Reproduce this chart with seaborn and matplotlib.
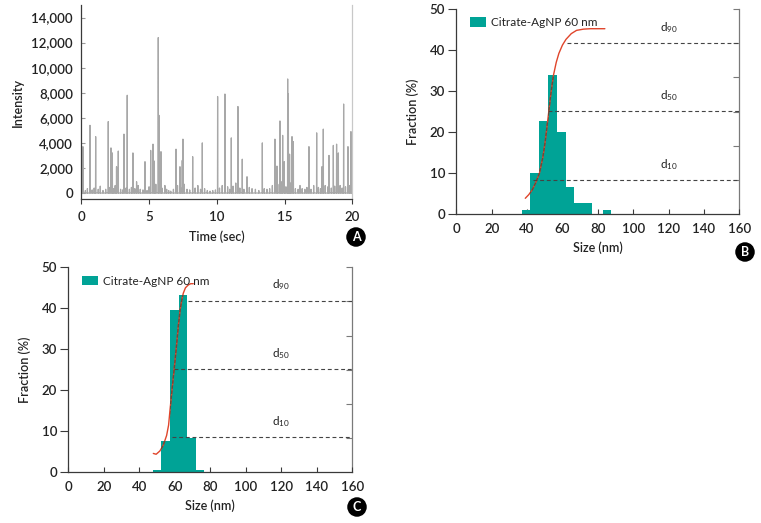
import matplotlib
matplotlib.use("Agg")
import matplotlib.pyplot as plt
from matplotlib.path import Path
import numpy as np
import pandas as pd
import seaborn as sns

# ---------------- Panel A: intensity trace ----------------
spike_time = [0.12, 0.64, 1.06, 1.99, 2.19, 2.29, 2.60, 2.73, 3.15, 3.39, 3.81, 4.08, 4.70,
              5.12, 5.29, 5.39, 5.68, 5.73, 5.88, 6.17, 6.99, 7.28, 7.45, 7.50, 8.22, 8.93,
              10.06, 10.60, 11.07, 11.56, 11.88, 12.23, 13.36, 14.29, 14.44, 14.66, 14.86,
              14.98, 15.23, 15.28, 15.37, 15.55, 15.65, 16.14, 16.80, 17.37, 17.76, 17.86,
              18.28, 18.60, 18.84, 18.97, 19.36, 19.68, 19.90]
spike_int = [3700, 5400, 4500, 5700, 3600, 3200, 2100, 3350, 4700, 7800, 3200, 900, 2500,
             3400, 3900, 2550, 12400, 6200, 3300, 600, 3500, 2100, 2600, 4300, 2900, 4000,
             7700, 7900, 4400, 6900, 2700, 1300, 4000, 4300, 2150, 5750, 4600,
             2500, 9100, 7900, 3100, 4500, 4100, 600, 3700, 4800, 2100, 5100,
             3000, 3800, 3900, 3200, 7100, 3700, 4900]
noise_time = [0.05, 0.30, 0.45, 0.80, 0.95, 1.25, 1.40, 1.60, 1.80, 2.05, 2.40, 2.50, 2.90,
              3.05, 3.30, 3.55, 3.70, 3.95, 4.20, 4.35, 4.55, 4.85, 5.00, 5.50, 5.95, 6.30,
              6.45, 6.60, 6.80, 7.10, 7.35, 7.60, 7.80, 8.00, 8.40, 8.60, 8.80, 9.10, 9.30,
              9.50, 9.70, 9.90, 10.20, 10.40, 10.80, 10.95, 11.20, 11.40, 11.70, 12.00, 12.40,
              12.60, 12.85, 13.10, 13.50, 13.70, 13.90, 14.10, 14.50, 14.75, 15.10, 15.45,
              15.80, 16.00, 16.30, 16.50, 16.65, 16.95, 17.15, 17.50, 17.65, 18.00, 18.20,
              18.45, 18.70, 19.10, 19.25, 19.50, 19.80, 19.95]
noise_int = [300, 200, 350, 250, 400, 300, 550, 200, 300, 450, 350, 600, 300,
             250, 400, 300, 450, 350, 600, 300, 250, 200, 500, 700, 400, 300,
             200, 150, 300, 600, 400, 700, 300, 250, 400, 600, 300, 350, 200,
             150, 200, 250, 400, 600, 500, 300, 550, 800, 400, 300, 450,
             350, 300, 200, 350, 300, 350, 600, 700, 900, 500, 800,
             350, 300, 350, 300, 450, 300, 600, 450, 350, 600, 500,
             400, 550, 600, 400, 500, 600, 400]

# ---------------- Panel B: size distribution ----------------
b_edges = [37.3, 41.8, 47.0, 52.0, 56.8, 61.8, 66.7, 71.6, 76.5, 83.0, 87.3]
b_frac = [1.1, 10.0, 22.7, 34.0, 20.0, 6.7, 2.8, 2.8, 0.0, 1.1]
b_cum_x = [39, 41, 43, 45, 47, 49, 50.5, 52, 53.5, 55, 56.5, 58, 60, 62, 65, 68, 72, 76, 84]
b_cum_y = [3.9, 4.8, 6.0, 7.8, 10.0, 14.0, 18.5, 24.0, 29.5, 34.0, 37.0, 39.2, 41.2, 42.6,
           44.0, 44.8, 45.1, 45.2, 45.2]
b_d_level = [8.4, 25.1, 41.7]
b_d_start = [43.5, 52.0, 62.4]

# ---------------- Panel C: size distribution ----------------
c_edges = [47.5, 52.5, 57.4, 62.2, 67.0, 71.8, 76.5]
c_frac = [0.6, 7.7, 39.6, 43.2, 8.4, 0.5]
c_cum_x = [47.9, 49.5, 51.6, 53.5, 55.4, 56.5, 57.3, 58.3, 59.2, 60.2, 61.1, 62.0, 63.0,
           64.0, 64.8, 66.0, 67.6, 69.0, 70.4]
c_cum_y = [4.6, 4.4, 5.2, 6.6, 9.0, 11.5, 15.2, 19.5, 23.3, 27.5, 31.5, 35.8, 39.6,
           42.2, 43.7, 45.0, 45.7, 46.0, 46.0]
c_d_level = [8.5, 25.1, 41.9]
c_d_start = [58.2, 59.7, 67.6]

d_labels = ["d$_{10}$", "d$_{50}$", "d$_{90}$"]
legend_label = "Citrate-AgNP 60 nm"

# ---------------- style ----------------
sns.set_theme(style="white")
plt.rcParams["font.family"] = ["Lato", "DejaVu Sans"]
plt.rcParams["mathtext.fontset"] = "custom"
plt.rcParams["mathtext.rm"] = "Lato"
plt.rcParams["mathtext.default"] = "regular"

TEAL = "#00A396"
RED = "#E0452B"
DARK = "#3a3a3a"
MID = "#7a7a7a"
TXT = "#222222"
TICK_FS = 9.5
LAB_FS = 9

W, H = 761, 523
fig = plt.figure(figsize=(W / 100, H / 100), dpi=100)


def frac_box(l, r, b, t):
    return [l / W, 1 - b / H, (r - l) / W, (b - t) / H]


axA = fig.add_axes(frac_box(81.3, 352.3, 199.3, 5))
axB = fig.add_axes(frac_box(456.3, 739.3, 214.3, 9))
axC = fig.add_axes(frac_box(68.3, 352.3, 472.3, 267.3))

# ---------- A ----------
events = sorted(list(zip(spike_time, spike_int)) + list(zip(noise_time, noise_int)))
xs, ys = [0.0], [0.0]
for t, h in events:
    xs += [t - 0.01, t, t + 0.01]
    ys += [0, h, 0]
xs.append(20.0)
ys.append(0.0)
dfA = pd.DataFrame({"Time": xs, "Intensity": ys})
sns.lineplot(data=dfA, x="Time", y="Intensity", estimator=None, sort=False,
             color="#a8a8a8", linewidth=0.9, ax=axA)
axA.set_xlim(0, 20)
axA.set_ylim(-500, 15000)
axA.set_xticks([0, 5, 10, 15, 20])
axA.set_yticks(range(0, 14001, 2000))
axA.yaxis.set_major_formatter(matplotlib.ticker.FuncFormatter(lambda v, p: f"{int(v):,}"))
axA.set_xlabel("Time (sec)", fontsize=LAB_FS, color=TXT, fontweight="semibold", labelpad=5)
axA.set_ylabel("Intensity", fontsize=LAB_FS, color=TXT, fontweight="semibold", labelpad=5)
axA.tick_params(axis="x", direction="out", length=3.5, width=0.8, color=DARK, bottom=True,
                labelsize=TICK_FS, labelcolor=TXT, pad=5)
axA.tick_params(axis="y", direction="in", length=3, width=0.8, color="#999999", left=True,
                labelsize=TICK_FS, labelcolor=TXT, pad=6)
axA.spines["top"].set_visible(False)
axA.spines["left"].set_color(DARK)
axA.spines["bottom"].set_color(DARK)
axA.spines["right"].set_color("#c8c8c8")
for s in ["left", "bottom", "right"]:
    axA.spines[s].set_linewidth(0.9)
for lab in axA.get_xticklabels() + axA.get_yticklabels():
    lab.set_fontweight("semibold")


def size_panel(ax, edges, frac, cx, cy, dlev, dstart):
    centers = [(edges[i] + edges[i + 1]) / 2 for i in range(len(frac))]
    sns.histplot(x=centers, weights=frac, bins=edges, stat="count", element="bars",
                 color=TEAL, alpha=1, linewidth=0, label=legend_label, ax=ax)
    sns.lineplot(x=cx, y=cy, color=RED, linewidth=1.0, sort=False, estimator=None, ax=ax)
    # darker dashed look of the curve where it crosses the bars
    verts, codes = [], []
    for p in ax.patches:
        x0, y0 = p.get_x(), p.get_y()
        w, h = p.get_width(), p.get_height()
        if h <= 0:
            continue
        verts += [(x0, y0), (x0 + w, y0), (x0 + w, y0 + h), (x0, y0 + h), (x0, y0)]
        codes += [Path.MOVETO, Path.LINETO, Path.LINETO, Path.LINETO, Path.CLOSEPOLY]
    clip = Path(verts, codes)
    dark_line, = ax.plot(cx, cy, color="#6b4a3a", linewidth=1.0, linestyle=(0, (2.5, 1.2)))
    dark_line.set_clip_path(clip, ax.transData)
    for lev, st, lab in zip(dlev, dstart, d_labels):
        ax.plot([st, 160], [lev, lev], linestyle=(0, (3.5, 2.5)), color="#444444",
                linewidth=0.8)
        ax.text(120, lev + 2.0, lab, ha="center", va="bottom", fontsize=8.5, color=TXT)
    ax.set_xlim(0, 160)
    ax.set_ylim(0, 50)
    ax.set_xticks(range(0, 161, 20))
    ax.set_yticks(range(0, 51, 10))
    ax.set_xlabel("Size (nm)", fontsize=LAB_FS, color=TXT, fontweight="semibold", labelpad=5)
    ax.set_ylabel("Fraction (%)", fontsize=LAB_FS, color=TXT, fontweight="semibold",
                  labelpad=8)
    ax.tick_params(axis="x", direction="in", length=3.5, width=0.8, color=DARK, bottom=True,
                   labelsize=TICK_FS, labelcolor=TXT, pad=6)
    ax.tick_params(axis="y", direction="out", length=6, width=0.8, color=DARK, left=True,
                   labelsize=TICK_FS, labelcolor=TXT, pad=2)
    for lab in ax.get_xticklabels() + ax.get_yticklabels():
        lab.set_fontweight("semibold")
    ax.spines["top"].set_visible(False)
    ax.spines["right"].set_visible(False)
    ax.spines["left"].set_color(DARK)
    ax.spines["bottom"].set_color(DARK)
    ax.spines["left"].set_linewidth(0.9)
    ax.spines["bottom"].set_linewidth(0.9)
    sec = ax.secondary_yaxis("right", functions=(lambda y: y * 2.4, lambda y: y / 2.4))
    sec.set_yticks([20, 40, 60, 80, 100, 120])
    sec.tick_params(direction="in", length=4, width=0.8, color=MID, labelright=False)
    sec.spines["right"].set_color(MID)
    sec.spines["right"].set_linewidth(0.9)
    leg = ax.legend(loc="upper left", frameon=False, fontsize=8.5, handlelength=1.3,
                    handleheight=0.9, handletextpad=0.5, borderaxespad=0.3,
                    bbox_to_anchor=(0.02, 1.0))
    for t in leg.get_texts():
        t.set_color(TXT)


size_panel(axB, b_edges, b_frac, b_cum_x, b_cum_y, b_d_level, b_d_start)
size_panel(axC, c_edges, c_frac, c_cum_x, c_cum_y, c_d_level, c_d_start)

for (x, y, s) in [(356, 237, "A"), (745, 252, "B"), (357, 507, "C")]:
    fig.text(x / W, 1 - y / H, s, ha="center", va="center", color="white",
             fontsize=9, fontweight="bold",
             bbox=dict(boxstyle="circle,pad=0.3", fc="black", ec="none"))

fig.savefig("out.png", dpi=100)
